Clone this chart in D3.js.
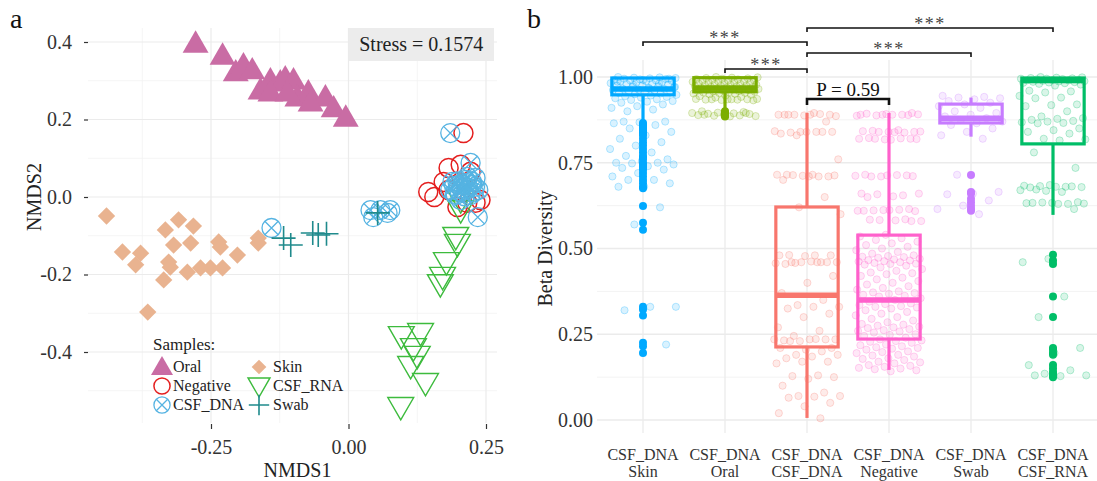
<!DOCTYPE html>
<html><head><meta charset="utf-8">
<script src="https://cdn.jsdelivr.net/npm/d3@7"></script>
<style>
body{margin:0;background:#fff}
svg{display:block}
svg text{font-family:"Liberation Serif","Times New Roman",Times,"DejaVu Serif",serif !important}
</style>
</head><body>
<svg id="c" width="1097" height="481" font-family="Liberation Serif, Times New Roman, DejaVu Serif, serif"></svg>
<script>
// ---------------- Panel a data (NMDS) ----------------
const aXTicks = [-0.25, 0, 0.25];
const aYTicks = [-0.4, -0.2, 0, 0.2, 0.4];
const stressLabel = "Stress = 0.1574";
const sampleGroups = ["Oral","Negative","CSF_DNA","Skin","CSF_RNA","Swab"];

const oralX = [-0.278,-0.229,-0.205,-0.191,-0.175,-0.160,-0.142,-0.124,-0.115,-0.100,-0.093,-0.073,-0.042,-0.027,-0.005,-0.142,-0.111,-0.069];
const oralY = [0.397,0.366,0.323,0.341,0.328,0.276,0.302,0.297,0.307,0.302,0.258,0.271,0.258,0.230,0.206,0.271,0.271,0.245];

const negX = [0.209,0.182,0.204,0.145,0.156,0.173,0.231,0.240,0.198,0.216,0.182,0.222];
const negY = [0.165,0.075,0.083,0.013,0.000,0.039,-0.015,-0.008,-0.026,-0.015,0.018,0.065];

const csfDnaX = [-0.140,0.040,0.058,0.076,0.045,0.071,0.185,0.222,0.235,0.185,0.200,0.213,0.225,0.195,0.209,0.222,0.236,0.204,0.218,0.231,0.189,
                 0.192,0.206,0.215,0.228,0.198,0.211,0.224,0.202,0.216,0.230,0.193,0.207];
const csfDnaY = [-0.080,-0.034,-0.034,-0.034,-0.052,-0.041,0.165,0.088,-0.052,0.018,0.031,0.044,0.031,0.005,0.010,0.005,0.018,-0.008,0.023,0.049,0.039,
                 0.028,0.022,0.036,0.012,0.040,0.002,0.040,0.014,0.052,0.026,0.008,0.033];

const skinX = [-0.440,-0.309,-0.282,-0.333,-0.236,-0.164,-0.411,-0.378,-0.387,-0.318,-0.287,-0.233,-0.202,-0.164,-0.327,-0.324,-0.293,-0.269,-0.251,-0.229,-0.336,-0.365];
const skinY = [-0.049,-0.059,-0.075,-0.085,-0.116,-0.106,-0.142,-0.145,-0.175,-0.124,-0.119,-0.129,-0.150,-0.119,-0.168,-0.181,-0.194,-0.183,-0.183,-0.183,-0.214,-0.297];

const csfRnaX = [0.204,0.195,0.198,0.178,0.171,0.167,0.096,0.131,0.118,0.125,0.113,0.140,0.095,0.204];
const csfRnaY = [-0.034,-0.103,-0.121,-0.168,-0.206,-0.225,-0.359,-0.351,-0.390,-0.410,-0.436,-0.480,-0.542,-0.008];

const swabX = [-0.118,-0.105,-0.065,-0.055,-0.040,0.053];
const swabY = [-0.106,-0.124,-0.093,-0.098,-0.095,-0.041];

// ---------------- Panel b data (beta diversity) ----------------
const bCats = ["Skin","Oral","CSF_DNA","Negative","Swab","CSF_RNA"];
const bLabelTop = ["CSF_DNA","CSF_DNA","CSF_DNA","CSF_DNA","CSF_DNA","CSF_DNA"];
const bLabelBottom = ["Skin","Oral","CSF_DNA","Negative","Swab","CSF_RNA"];
const bYTicks = [0, 0.25, 0.5, 0.75, 1];
// [lower whisker, Q1, median, Q3, upper whisker]
const boxSkin = [0.873,0.948,0.965,0.997,1.0];
const boxOral = [0.900,0.957,0.968,0.998,1.0];
const boxCsfDna = [0.006,0.213,0.364,0.621,0.895];
const boxNeg = [0.146,0.236,0.350,0.539,0.895];
const boxSwab = [0.826,0.866,0.880,0.921,0.940];
const boxRna = [0.598,0.805,0.990,0.997,1.0];

const outSkin = [0.866,0.86,0.855,0.85,0.845,0.84,0.835,0.83,0.82,0.81,0.80,0.79,0.78,0.77,0.765,0.76,0.75,0.745,0.74,0.735,0.73,0.72,0.71,0.70,0.69,0.68,0.676,0.624,0.575,0.555,0.33,0.322,0.305,0.225,0.215,0.195];
const outOral = [0.90,0.897,0.893,0.89,0.887,0.885];
const outCsfDna = [];
const outNeg = [];
const outSwab = [0.714,0.665,0.66,0.645,0.635,0.625,0.615,0.61];
const outRna = [0.482,0.465,0.455,0.36,0.30,0.21,0.205,0.195,0.19,0.16,0.15,0.14,0.135,0.128,0.125];

const jitSkin = [1.0,0.999,0.998,0.997,0.996,0.995,0.994,0.993,0.992,0.99,0.99,0.989,0.988,0.987,0.985,0.984,0.982,0.98,0.98,0.978,0.976,0.975,0.973,0.972,0.97,0.968,0.966,0.965,0.963,0.962,0.96,0.958,0.957,0.955,0.953,0.952,0.95,0.948,0.946,0.944,0.942,0.94,0.938,0.935,0.933,0.93,0.928,0.925,0.92,0.915,0.91,0.905,0.9,0.995,0.991,0.986,0.981,0.977,0.971,0.967,
0.87,0.87,0.868,0.865,0.86,0.85,0.84,0.83,0.82,0.81,0.80,0.79,0.78,0.77,0.76,0.755,0.75,0.75,0.748,0.745,0.74,0.735,0.73,0.72,0.71,0.70,0.70,0.69,0.68,0.68,0.62,0.57,0.33,0.33,0.32,0.22];
const jitOral = [1.0,0.999,0.998,0.997,0.996,0.995,0.994,0.993,0.992,0.991,0.99,0.989,0.988,0.987,0.986,0.985,0.984,0.983,0.982,0.981,0.98,0.979,0.978,0.977,0.976,0.975,0.974,0.973,0.972,0.971,0.97,0.969,0.968,0.967,0.966,0.965,0.964,0.963,0.962,0.961,0.96,0.959,0.958,0.957,0.956,0.955,0.954,0.953,0.952,0.951,0.95,0.948,0.946,0.944,0.942,0.94,
0.936,0.935,0.934,0.935,0.933,0.936,0.934,0.935,0.932,0.935,
0.9,0.898,0.896,0.895,0.894,0.893,0.892,0.89,0.889,0.888,0.887,0.886,0.885,0.89,0.895];
const jitCsfDna = [0.895,0.89,0.89,0.888,0.89,0.892,0.89,0.886,0.89,0.89,0.87,
0.84,0.842,0.84,0.838,0.84,0.84,0.835,0.84,0.83,
0.76,0.715,0.715,0.71,0.712,0.715,0.71,0.714,0.713,0.71,0.70,
0.65,0.62,0.60,
0.48,0.481,0.48,0.478,0.48,0.46,0.458,0.46,0.462,0.455,0.46,0.46,0.457,0.46,0.46,
0.42,0.40,0.37,0.35,0.335,0.33,0.33,0.325,0.31,0.30,0.27,0.26,0.245,
0.235,0.235,0.232,0.235,0.23,0.235,0.236,0.23,
0.21,0.205,0.21,0.2,0.19,0.19,0.185,0.18,0.17,0.17,0.165,
0.13,0.128,0.125,0.12,0.10,0.08,0.07,0.07,0.068,0.065,0.05,0.04,0.02,0.005];
const jitNeg = [0.895,0.892,0.89,0.89,0.888,0.891,0.89,0.893,0.889,0.89,0.887,
0.845,0.843,0.84,0.84,0.842,0.838,0.84,0.841,0.839,
0.822,0.82,0.818,0.82,0.821,0.82,0.819,0.817,
0.715,0.713,0.71,0.712,0.714,0.71,0.711,0.713,
0.66,0.655,0.658,0.66,0.652,0.65,
0.615,0.612,0.61,0.613,0.611,0.609,0.612,0.61,
0.585,0.583,0.58,0.582,0.584,0.58,
0.54,0.535,0.53,0.525,0.52,0.515,0.51,0.505,0.5,0.495,0.49,0.485,
0.48,0.478,0.476,0.475,0.473,0.47,0.468,0.466,0.465,0.463,0.462,0.46,0.458,0.456,0.455,0.453,0.45,
0.445,0.44,0.435,0.43,0.428,0.425,0.42,0.415,0.41,0.405,0.40,0.395,0.39,0.385,
0.38,0.375,0.372,0.37,0.368,0.365,0.362,0.36,0.355,0.35,0.345,0.34,0.338,0.335,0.332,0.33,0.328,0.325,0.32,
0.315,0.31,0.305,0.30,0.295,0.29,0.285,0.28,0.278,0.275,0.272,0.27,0.268,0.265,0.262,0.26,0.258,0.255,0.25,0.248,0.245,0.24,
0.235,0.232,0.23,0.228,0.225,0.22,0.218,0.215,0.212,0.21,0.208,0.205,0.2,0.198,0.195,0.19,0.188,0.185,0.18,0.178,0.175,0.17,0.168,0.165,0.16,0.158,0.155,0.152,0.15,0.148,0.145,0.142];
const jitSwab = [0.945,0.942,0.94,0.938,0.935,0.93,0.925,0.92,0.915,0.91,0.9,0.895,0.89,0.885,0.88,0.875,0.87,0.865,0.86,0.85,0.84,0.83,0.82,0.715,0.665,0.66,0.658,0.64,0.625,0.615,0.6];
const jitRna = [1.0,0.999,0.998,0.997,0.996,0.995,0.995,0.994,0.993,0.992,0.991,0.99,0.99,0.989,0.988,0.987,0.986,0.985,0.984,0.983,0.982,0.98,0.978,0.975,
0.96,0.958,0.955,0.945,0.94,0.938,0.92,0.918,0.915,0.90,0.885,0.88,0.878,0.875,0.872,0.87,0.868,0.866,0.865,0.85,0.845,0.84,0.835,0.82,0.818,0.815,0.78,0.735,
0.685,0.683,0.68,0.682,0.679,0.68,0.678,0.681,0.668,0.67,0.665,0.672,
0.635,0.633,0.632,0.63,0.634,0.631,0.63,0.633,0.615,
0.47,0.46,0.36,0.30,0.21,0.195,0.16,0.145,0.135,0.13,0.128,0.13];

// comparisons
const compFrom = ["Skin","Oral","CSF_DNA","CSF_DNA","CSF_DNA"];
const compTo   = ["CSF_DNA","CSF_DNA","CSF_RNA","Swab","Negative"];
const compLabel= ["***","***","***","***","P = 0.59"];

// ---------------- drawing ----------------
const FONT = '"Liberation Serif","Times New Roman",Times,"DejaVu Serif",serif';
const svg = d3.select("#c");
const gridMajor = "#ebebeb", gridMinor = "#f2f2f2", txt = "#333";

// ===== Panel a =====
const A = {l:88, r:497, t:28, b:423};
const xa = d3.scaleLinear().domain([-0.25,0.25]).range([211,486]);
const ya = d3.scaleLinear().domain([-0.4,0.4]).range([352,42]);
const ga = svg.append("g");

const aXMinor = [-0.375,-0.125,0.125];
const aYMinor = [-0.5,-0.3,-0.1,0.1,0.3];
ga.selectAll(".vminA").data(aXMinor).join("line").attr("x1",d=>xa(d)).attr("x2",d=>xa(d)).attr("y1",A.t).attr("y2",A.b).attr("stroke",gridMinor).attr("stroke-width",0.8);
ga.selectAll(".hminA").data(aYMinor).join("line").attr("y1",d=>ya(d)).attr("y2",d=>ya(d)).attr("x1",A.l).attr("x2",A.r).attr("stroke",gridMinor).attr("stroke-width",0.8);
ga.selectAll(".vmajA").data(aXTicks).join("line").attr("x1",d=>xa(d)).attr("x2",d=>xa(d)).attr("y1",A.t).attr("y2",A.b).attr("stroke",gridMajor).attr("stroke-width",1.2);
ga.selectAll(".hmajA").data(aYTicks).join("line").attr("y1",d=>ya(d)).attr("y2",d=>ya(d)).attr("x1",A.l).attr("x2",A.r).attr("stroke",gridMajor).attr("stroke-width",1.2);

const axL = ga.append("g").attr("transform",`translate(${A.l},0)`)
  .call(d3.axisLeft(ya).tickValues(aYTicks).tickSize(4).tickPadding(12).tickFormat(d=>d.toFixed(1)));
const axB = ga.append("g").attr("transform",`translate(0,${A.b+1})`)
  .call(d3.axisBottom(xa).tickValues(aXTicks).tickSize(5).tickPadding(11).tickFormat(d=>d.toFixed(2)));
[axL,axB].forEach(ax=>{
  ax.attr("font-family",FONT);
  ax.select(".domain").remove();
  ax.selectAll("line").attr("stroke",txt).attr("stroke-width",1.2);
  ax.selectAll("text").attr("fill",txt).style("font-size","20px").style("font-family",FONT);
});
ga.append("text").attr("x",(A.l+A.r)/2+5).attr("y",477).attr("text-anchor","middle").attr("fill","#222").style("font-size","20px").style("font-family",FONT).text("NMDS1");
ga.append("text").attr("transform",`translate(41,${ya(0)}) rotate(-90)`).attr("text-anchor","middle").attr("fill","#222").style("font-size","20px").style("font-family",FONT).text("NMDS2");

ga.append("rect").attr("x",xa(0)).attr("y",A.t).attr("width",494-xa(0)).attr("height",33).attr("fill","#ececec");
ga.append("text").attr("x",(xa(0)+494)/2).attr("y",A.t+23).attr("text-anchor","middle").attr("fill","#222").style("font-size","20px").style("font-family",FONT).text(stressLabel);

const colA = {Oral:"#C96CA4", Negative:"#E41F1F", CSF_DNA:"#55B3E2", Skin:"#E9B390", CSF_RNA:"#3DBB3D", Swab:"#1F8A8C"};
function marker(g, type, x, y, k){
  k = k || 1;
  const c = colA[type];
  if(type==="Oral"){
    g.append("path").attr("d",d3.symbol(d3.symbolTriangle, 290*k*k)()).attr("transform",`translate(${x},${y+2*k})`).attr("fill",c);
  } else if(type==="Negative"){
    g.append("circle").attr("cx",x).attr("cy",y).attr("r",9.5*k).attr("fill","none").attr("stroke",c).attr("stroke-width",1.5);
  } else if(type==="CSF_DNA"){
    const r=9.5*k, d=r*0.707;
    g.append("circle").attr("cx",x).attr("cy",y).attr("r",r).attr("fill","none").attr("stroke",c).attr("stroke-width",1.3);
    g.append("path").attr("d",`M${x-d},${y-d}L${x+d},${y+d}M${x-d},${y+d}L${x+d},${y-d}`).attr("stroke",c).attr("stroke-width",1.3);
  } else if(type==="Skin"){
    g.append("path").attr("d",d3.symbol(d3.symbolSquare, 150*k*k)()).attr("transform",`translate(${x},${y}) rotate(45)`).attr("fill",c);
  } else if(type==="CSF_RNA"){
    g.append("path").attr("d",d3.symbol(d3.symbolTriangle, 290*k*k)()).attr("transform",`translate(${x},${y-2*k}) rotate(180)`).attr("fill","none").attr("stroke",c).attr("stroke-width",1.4);
  } else if(type==="Swab"){
    const s=12*k;
    g.append("path").attr("d",`M${x-s},${y}H${x+s}M${x},${y-s}V${y+s}`).attr("stroke",c).attr("stroke-width",1.6);
  }
}
const pts = ga.append("g");
const drawSeries = (type, xs, ys) => xs.forEach((v,i)=>marker(pts,type,xa(v),ya(ys[i])));
drawSeries("Oral", oralX, oralY);
drawSeries("Skin", skinX, skinY);
drawSeries("Negative", negX, negY);
drawSeries("CSF_RNA", csfRnaX, csfRnaY);
drawSeries("CSF_DNA", csfDnaX, csfDnaY);
drawSeries("Swab", swabX, swabY);

const lg = ga.append("g");
lg.append("text").attr("x",153).attr("y",350).attr("fill","#222").style("font-size","17px").style("font-family",FONT).text("Samples:");
const legCols = [["Oral","Negative","CSF_DNA"],["Skin","CSF_RNA","Swab"]];
const legX = [162, 259], legTX = [173, 273], legY = [367, 386, 405];
legCols.forEach((col,ci)=>col.forEach((name,ri)=>{
  marker(lg, name, legX[ci], legY[ri], 0.85);
  lg.append("text").attr("x",legTX[ci]).attr("y",legY[ri]+5).attr("fill","#222").style("font-size","16px").style("font-family",FONT).text(name);
}));

svg.append("text").attr("x",10).attr("y",28).attr("fill","#111").style("font-size","28px").style("font-family",FONT).text("a");

// ===== Panel b =====
const B = {l:597, r:1097, t:60, b:433};
const xb = d3.scalePoint().domain(bCats).range([643,1053]);
const yb = d3.scaleLinear().domain([0,1]).range([420,77]);
const gb = svg.append("g");
const bYMinor = [0.125,0.375,0.625,0.875];
gb.selectAll(".hminB").data(bYMinor).join("line").attr("y1",d=>yb(d)).attr("y2",d=>yb(d)).attr("x1",B.l).attr("x2",B.r).attr("stroke",gridMinor).attr("stroke-width",0.9);
gb.selectAll(".hmajB").data(bYTicks).join("line").attr("y1",d=>yb(d)).attr("y2",d=>yb(d)).attr("x1",B.l).attr("x2",B.r).attr("stroke",gridMajor).attr("stroke-width",1.3);
gb.selectAll(".vmajB").data(bCats).join("line").attr("x1",d=>xb(d)).attr("x2",d=>xb(d)).attr("y1",B.t).attr("y2",B.b).attr("stroke",gridMajor).attr("stroke-width",1.3);

const axLB = gb.append("g").attr("transform",`translate(${B.l},0)`)
  .call(d3.axisLeft(yb).tickValues(bYTicks).tickSize(0).tickPadding(4).tickFormat(d=>d.toFixed(2)));
axLB.attr("font-family",FONT);
axLB.select(".domain").remove();
axLB.selectAll("text").attr("fill",txt).style("font-size","20px").style("font-family",FONT);

const xl = gb.append("g");
bCats.forEach((c,i)=>{
  xl.append("text").attr("x",xb(c)).attr("y",460).attr("text-anchor","middle").attr("fill",txt).style("font-size","16px").style("font-family",FONT).text(bLabelTop[i]);
  xl.append("text").attr("x",xb(c)).attr("y",477).attr("text-anchor","middle").attr("fill",txt).style("font-size","16px").style("font-family",FONT).text(bLabelBottom[i]);
});
gb.append("text").attr("transform",`translate(552,${yb(0.5)}) rotate(-90)`).attr("text-anchor","middle").attr("fill","#222").style("font-size","20px").style("font-family",FONT).text("Beta Diversity");

const colB = {Skin:"#00A9FF", Oral:"#7CAE00", CSF_DNA:"#F8766D", Negative:"#FF61CC", Swab:"#C77CFF", CSF_RNA:"#00BE67"};
const boxes = {Skin:boxSkin, Oral:boxOral, CSF_DNA:boxCsfDna, Negative:boxNeg, Swab:boxSwab, CSF_RNA:boxRna};
const outs = {Skin:outSkin, Oral:outOral, CSF_DNA:outCsfDna, Negative:outNeg, Swab:outSwab, CSF_RNA:outRna};
const jits = {Skin:jitSkin, Oral:jitOral, CSF_DNA:jitCsfDna, Negative:jitNeg, Swab:jitSwab, CSF_RNA:jitRna};
const step = xb.step();
const boxW = step*0.76, jitW = step*0.41;

const boxG = gb.append("g");
bCats.forEach(c=>{
  const s = boxes[c], cx = xb(c), col = colB[c];
  boxG.append("line").attr("x1",cx).attr("x2",cx).attr("y1",yb(s[0])).attr("y2",yb(s[1])).attr("stroke",col).attr("stroke-width",3.2);
  boxG.append("line").attr("x1",cx).attr("x2",cx).attr("y1",yb(s[3])).attr("y2",yb(s[4])).attr("stroke",col).attr("stroke-width",3.2);
  boxG.append("rect").attr("x",cx-boxW/2).attr("y",yb(s[3])).attr("width",boxW).attr("height",yb(s[1])-yb(s[3])).attr("fill","none").attr("stroke",col).attr("stroke-width",3.2);
  boxG.append("line").attr("x1",cx-boxW/2).attr("x2",cx+boxW/2).attr("y1",yb(s[2])).attr("y2",yb(s[2])).attr("stroke",col).attr("stroke-width",5.5);
  outs[c].forEach(v=>boxG.append("circle").attr("cx",cx).attr("cy",yb(v)).attr("r",4).attr("fill",col));
});
const jitG = gb.append("g");
bCats.forEach((c,ci)=>{
  const cx = xb(c), col = colB[c];
  jits[c].forEach((v,i)=>{
    const f = ((i*0.6180339887 + ci*0.237 + 0.13) % 1) - 0.5;
    jitG.append("circle").attr("cx",cx + f*2*jitW).attr("cy",yb(v)).attr("r",3.6)
      .attr("fill",col).attr("fill-opacity",0.15).attr("stroke",col).attr("stroke-opacity",0.26).attr("stroke-width",1);
  });
});

const bracketY = [42, 69, 28, 53, 99];
const brG = gb.append("g");
compFrom.forEach((f,i)=>{
  const x1 = xb(f), x2 = xb(compTo[i]), y = bracketY[i];
  const isP = compLabel[i].startsWith("P");
  const tk = isP ? 6 : 4;
  brG.append("path").attr("d",`M${x1},${y+tk}V${y}H${x2}V${y+tk}`).attr("fill","none").attr("stroke","#111").attr("stroke-width",isP?2.6:1.6);
  brG.append("text").attr("x",(x1+x2)/2).attr("y",isP? y-3 : y+2).attr("text-anchor","middle")
    .attr("fill",isP?"#111":"#444").style("font-size",isP?"19px":"18px").style("letter-spacing",isP?"0px":"1.5px").style("font-family",FONT).text(compLabel[i]);
});

svg.append("text").attr("x",527).attr("y",28).attr("fill","#111").style("font-size","28px").style("font-family",FONT).text("b");
</script>
</body></html>
